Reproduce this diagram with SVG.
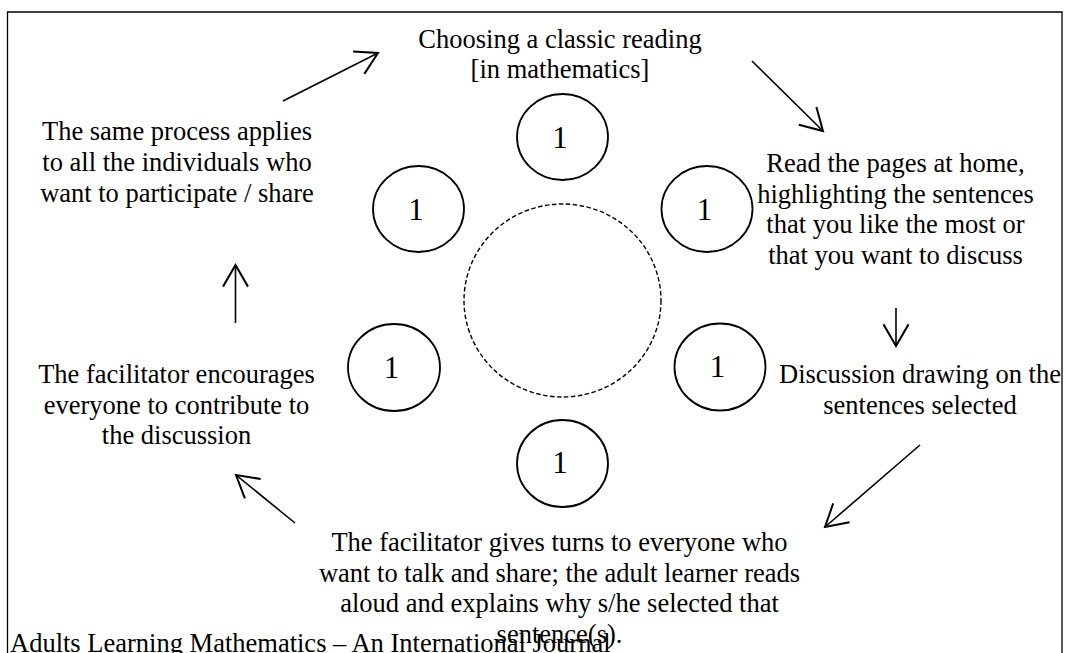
<svg xmlns="http://www.w3.org/2000/svg" width="1066" height="653" viewBox="0 0 1066 653">
<style>
text{font-family:"Liberation Serif","Times New Roman",serif;font-size:26.5px;fill:#000}
.c{text-anchor:middle}
.seat{fill:none;stroke:#000;stroke-width:1.8}
.one{font-size:31px;text-anchor:middle}
.table{fill:none;stroke:#000;stroke-width:1.4;stroke-dasharray:4.5 2.5}
.arr{fill:none;stroke:#000;stroke-width:1.6;marker-end:url(#open)}
</style>
<defs>
<marker id="open" markerUnits="userSpaceOnUse" markerWidth="30" markerHeight="30" viewBox="-20 -12 22 24" refX="0" refY="0" orient="auto" overflow="visible">
<polyline points="-17.3,-10 0,0 -17.3,10" fill="none" stroke="#000" stroke-width="1.6"/>
</marker>
</defs>
<rect width="1066" height="653" fill="#fff"/>
<path d="M7.5 700 V12 H1062 V700" fill="none" stroke="#000" stroke-width="1.3"/>
<g id="table"><ellipse class="table" cx="562.5" cy="300.5" rx="98.5" ry="96.5"/></g>
<g id="seat-top"><ellipse class="seat" cx="562.5" cy="137" rx="45.5" ry="43"/><text class="one" x="560" y="148">1</text></g>
<g id="seat-upper-left"><ellipse class="seat" cx="418.5" cy="209" rx="45.5" ry="43"/><text class="one" x="416" y="220">1</text></g>
<g id="seat-upper-right"><ellipse class="seat" cx="707" cy="209" rx="45.5" ry="43"/><text class="one" x="704.5" y="220">1</text></g>
<g id="seat-lower-left"><ellipse class="seat" cx="394" cy="367.5" rx="46" ry="43.5"/><text class="one" x="391.5" y="377.5">1</text></g>
<g id="seat-lower-right"><ellipse class="seat" cx="720" cy="367" rx="45.5" ry="43.5"/><text class="one" x="717.5" y="377">1</text></g>
<g id="seat-bottom"><ellipse class="seat" cx="562.5" cy="463.5" rx="45.5" ry="43.5"/><text class="one" x="560" y="473">1</text></g>
<g id="step-choose"><text class="c" x="560" y="48">Choosing a classic reading</text><text class="c" x="560" y="78">[in mathematics]</text></g>
<g id="step-read"><text class="c" x="895.5" y="172">Read the pages at home,</text><text class="c" x="895.5" y="202.5">highlighting the sentences</text><text class="c" x="895.5" y="233">that you like the most or</text><text class="c" x="895.5" y="263.5">that you want to discuss</text></g>
<g id="step-discussion"><text class="c" x="920" y="383">Discussion drawing on the</text><text class="c" x="920" y="413.5">sentences selected</text></g>
<g id="step-turns"><text class="c" x="559.5" y="551">The facilitator gives turns to everyone who</text><text class="c" x="559.5" y="581.5">want to talk and share; the adult learner reads</text><text class="c" x="559.5" y="612">aloud and explains why s/he selected that</text><text class="c" x="559.5" y="642.5">sentence(s).</text></g>
<g id="step-encourage"><text class="c" x="176.5" y="383">The facilitator encourages</text><text class="c" x="176.5" y="413.5">everyone to contribute to</text><text class="c" x="176.5" y="444">the discussion</text></g>
<g id="step-repeat"><text class="c" x="177" y="140">The same process applies</text><text class="c" x="177" y="171">to all the individuals who</text><text class="c" x="177" y="201.5">want to participate / share</text></g>
<g id="connectors">
<line class="arr" x1="283" y1="101" x2="378" y2="53"/>
<line class="arr" x1="752" y1="61" x2="823" y2="131"/>
<line class="arr" x1="896" y1="308" x2="896" y2="346"/>
<line class="arr" x1="920" y1="445" x2="825" y2="527"/>
<line class="arr" x1="295" y1="523" x2="236" y2="475"/>
<line class="arr" x1="235.5" y1="323" x2="235.5" y2="265"/>
</g>
<text id="footer" x="10" y="652">Adults Learning Mathematics – An International Journal</text>
</svg>
